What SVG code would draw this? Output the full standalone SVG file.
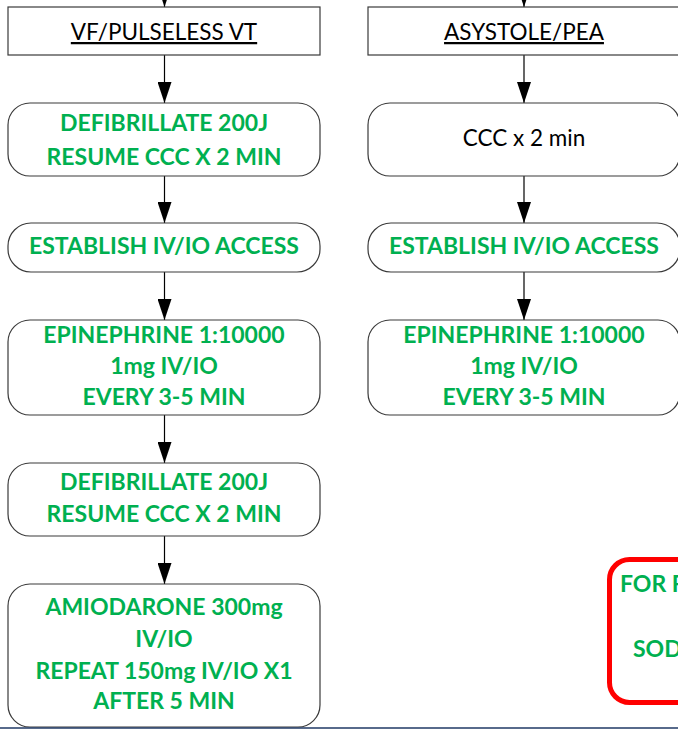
<svg xmlns="http://www.w3.org/2000/svg" width="678" height="729" viewBox="0 0 678 729">
<style>
.box{fill:#fff;stroke:#3a3a3a;stroke-width:1.2}
.g{font-family:Lato,"Liberation Sans",Arial,sans-serif;font-weight:bold;font-size:23px;fill:#00B050;text-anchor:middle}
.k{font-family:Lato,"Liberation Sans",Arial,sans-serif;font-size:22.5px;fill:#000;text-anchor:middle}
.c{stroke:#000;stroke-width:1.2;fill:none;marker-end:url(#ah)}
</style>
<defs>
<marker id="ah" markerUnits="userSpaceOnUse" markerWidth="21" markerHeight="14" viewBox="0 0 21 14" refX="21" refY="7" orient="auto">
<path d="M0,0 L21,7 L0,14 Z" fill="#000"/>
</marker>
</defs>
<rect width="678" height="729" fill="#fff"/>
<g id="connectors">
<line class="c" x1="164.5" y1="-30" x2="164.5" y2="7"/>
<line class="c" x1="164.5" y1="55" x2="164.5" y2="103"/>
<line class="c" x1="164.5" y1="176" x2="164.5" y2="223"/>
<line class="c" x1="164.5" y1="272" x2="164.5" y2="320"/>
<line class="c" x1="164.5" y1="415" x2="164.5" y2="463"/>
<line class="c" x1="164.5" y1="536" x2="164.5" y2="584"/>
<line class="c" x1="524" y1="-30" x2="524" y2="7"/>
<line class="c" x1="524" y1="55" x2="524" y2="103"/>
<line class="c" x1="524" y1="176" x2="524" y2="223"/>
<line class="c" x1="524" y1="272" x2="524" y2="320"/>
</g>
<g id="vf">
<rect class="box" x="8" y="7" width="312" height="48"/>
<text class="k" x="164" y="40" text-decoration="underline">VF/PULSELESS VT</text>
</g>
<g id="defib1">
<rect class="box" x="8" y="103" width="312" height="73" rx="22"/>
<text class="g" x="164" y="131">DEFIBRILLATE 200J</text>
<text class="g" x="164" y="165">RESUME CCC X 2 MIN</text>
</g>
<g id="access1">
<rect class="box" x="8" y="223" width="312" height="49" rx="23"/>
<text class="g" x="164" y="254">ESTABLISH IV/IO ACCESS</text>
</g>
<g id="epi1">
<rect class="box" x="8" y="320" width="312" height="95" rx="22"/>
<text class="g" x="164" y="343">EPINEPHRINE 1:10000</text>
<text class="g" x="164" y="374">1mg IV/IO</text>
<text class="g" x="164" y="405">EVERY 3-5 MIN</text>
</g>
<g id="defib2">
<rect class="box" x="8" y="463" width="312" height="73" rx="22"/>
<text class="g" x="164" y="490">DEFIBRILLATE 200J</text>
<text class="g" x="164" y="522">RESUME CCC X 2 MIN</text>
</g>
<g id="amio">
<rect class="box" x="8" y="584" width="312" height="143" rx="22"/>
<text class="g" x="164" y="615">AMIODARONE 300mg</text>
<text class="g" x="164" y="647">IV/IO</text>
<text class="g" x="164" y="679">REPEAT 150mg IV/IO X1</text>
<text class="g" x="164" y="709">AFTER 5 MIN</text>
</g>
<g id="asys">
<rect class="box" x="368" y="7" width="312" height="48"/>
<text class="k" x="524" y="40" text-decoration="underline">ASYSTOLE/PEA</text>
</g>
<g id="ccc">
<rect class="box" x="368" y="103" width="312" height="73" rx="22"/>
<text class="k" x="524" y="146">CCC x 2 min</text>
</g>
<g id="access2">
<rect class="box" x="368" y="223" width="312" height="49" rx="23"/>
<text class="g" x="524" y="254">ESTABLISH IV/IO ACCESS</text>
</g>
<g id="epi2">
<rect class="box" x="368" y="320" width="312" height="95" rx="22"/>
<text class="g" x="524" y="343">EPINEPHRINE 1:10000</text>
<text class="g" x="524" y="374">1mg IV/IO</text>
<text class="g" x="524" y="405">EVERY 3-5 MIN</text>
</g>
<g id="note">
<rect x="609.5" y="559.5" width="120" height="143" rx="20" fill="#fff" stroke="#ff0000" stroke-width="5"/>
<text class="g" x="620" y="592" style="text-anchor:start">FOR R</text>
<text class="g" x="633" y="657" style="text-anchor:start">SOD</text>
</g>
<line x1="0" y1="728" x2="678" y2="728" stroke="#1f3864" stroke-width="1.5"/>
</svg>
